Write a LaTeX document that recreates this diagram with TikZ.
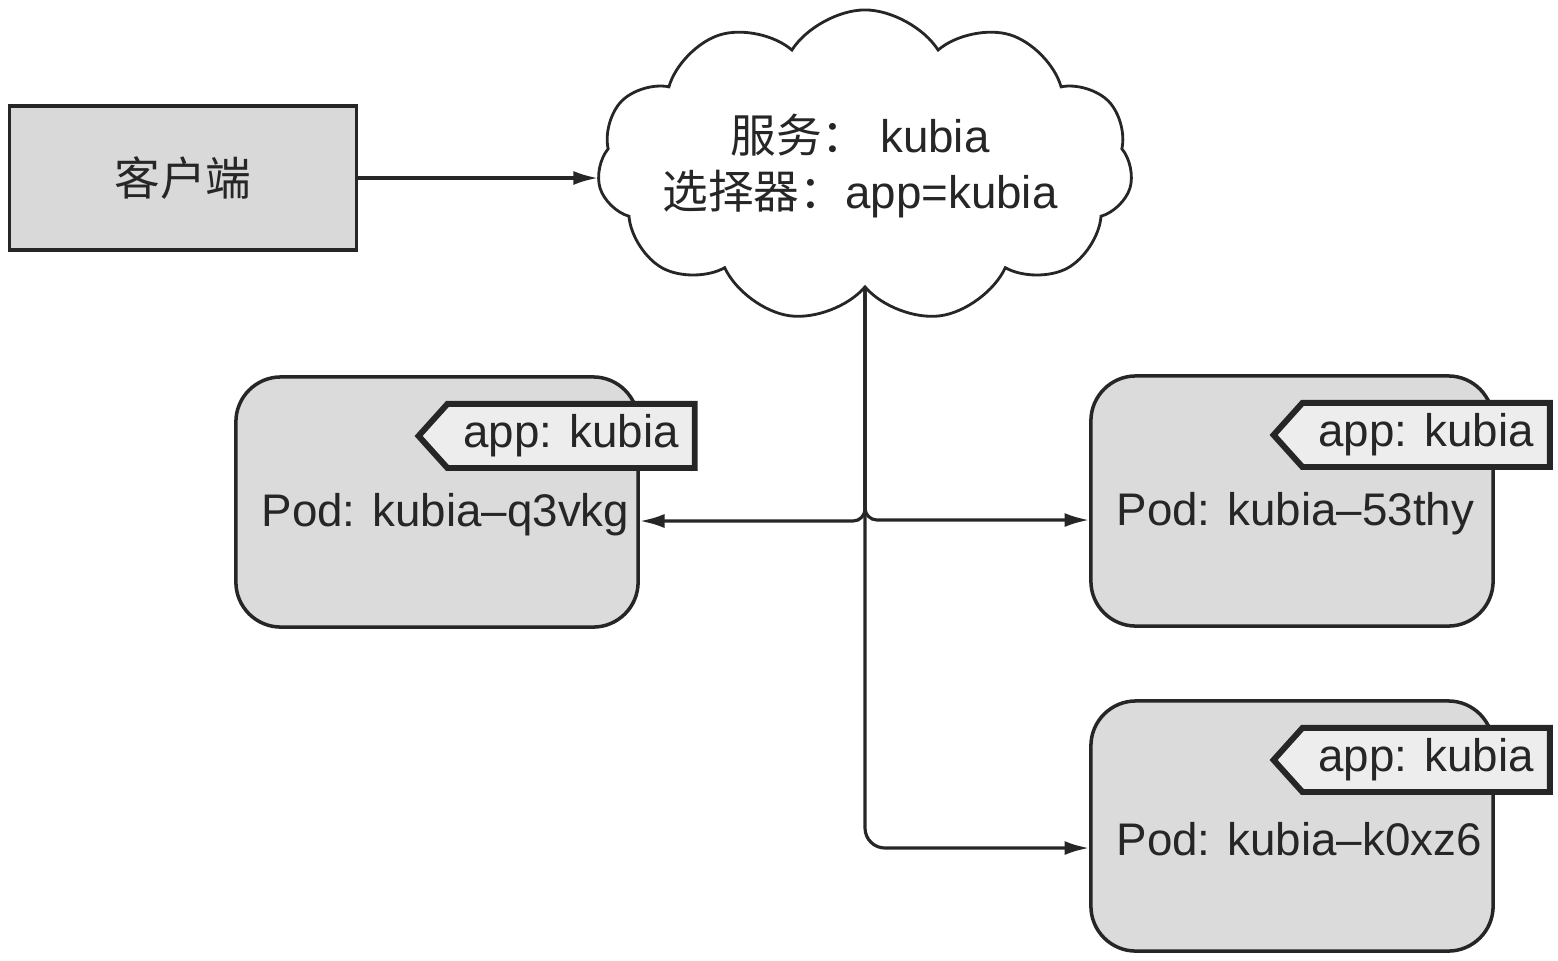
\documentclass[tikz,border=0pt]{standalone}
\usepackage{fontspec}
\setmainfont{Liberation Sans}
\newfontfamily\cjk{Noto Sans CJK SC}
\usetikzlibrary{shapes.symbols,arrows.meta}
\tikzset{
  box/.style={draw=black!85,line width=1pt,fill=black!15,inner sep=0pt},
  podbox/.style={box,fill=black!14,rounded corners=0.45cm,
    minimum width=4.02cm,minimum height=2.5cm},
  tagbox/.style={draw=black!85,line width=1.7pt,fill=black!7,signal,
    signal to=west,signal pointer angle=96,minimum width=2.76cm,
    minimum height=0.64cm,inner sep=1pt},
  txt/.style={text=black!85,font=\fontsize{13}{16}\selectfont},
  conn/.style={draw=black!85,line width=0.9pt},
  arr/.style={conn,-{Latex[length=7pt,width=4pt]}}
}
\begin{document}
\begin{tikzpicture}[x=0.01cm,y=-0.01cm]
\useasboundingbox (0,0) rectangle (1558,960);
% Client and service
\node[box,txt,minimum width=3.47cm,minimum height=1.44cm] (client) at (183,178) {\cjk 客户端};
\node[cloud,cloud puffs=11,cloud puff arc=115,cloud ignores aspect,draw=black!85,
  line width=0.8pt,inner sep=0pt,minimum width=5.35cm,minimum height=3.12cm]
  (svc) at (865,166) {};
\node[txt,align=center] (svctxt) at ([xshift=-0.05cm]svc.center) {{\cjk 服务：} kubia\\{\cjk 选择器：}app=kubia};

% Pods
\foreach \i/\x/\y/\id in {1/437/502/q3vkg, 2/1292/501/53thy, 3/1292/826/k0xz6} {
  \node[podbox] (pod\i) at (\x,\y) {};
  \node[txt,anchor=west] (pod\i txt) at ([xshift=0.15cm]pod\i.west |- 0,{\y+13}) {Pod: kubia--\id};
  \node[tagbox,txt] (tag\i) at ([xshift=1.34cm,yshift=0.66cm]pod\i.center) {app: kubia};
}

% Connectors
\draw[arr] (client.east) -- (svc.west |- client.east);
\draw[arr,rounded corners=0.12cm] (svc.south) |- ([yshift=-0.19cm]pod1.east);
\draw[arr,rounded corners=0.12cm] (svc.south) |- ([yshift=-0.19cm]pod2.west);
\draw[arr,rounded corners=0.2cm] (svc.south) |- ([yshift=-0.22cm]pod3.west);
\end{tikzpicture}
\end{document}
